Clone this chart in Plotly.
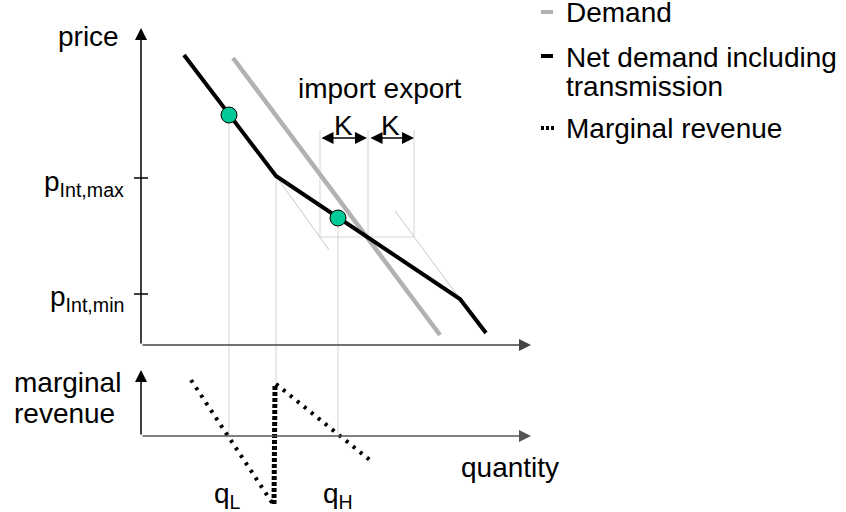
import plotly.graph_objects as go

# ---- data (diagram units: quantity q, price p; MR panel uses its own y axis) ----
demand_q = [92, 299]
demand_p = [287, 10]

net_q = [43, 135, 319, 345]
net_p = [290, 169, 46, 12]

eq_q = [88, 197]
eq_p = [230, 127]

shift_left_q = [135, 188]
shift_left_p = [169, 95]
shift_right_q = [254, 319]
shift_right_p = [134, 46]

p_int_max = 167
p_int_min = 51

k_q = [179, 227, 273]          # import edge, demand crossing, export edge
k_p_low = 108
k_p_high = 215
k_arrow_p = 207

mr1_q = [50, 132]
mr1_v = [56, -68]
mrv_q = [133, 134]
mrv_v = [-68, 52]
mr2_q = [135, 230]
mr2_v = [52, -25]

mr_zero_in_price = -91   # price-axis level of MR zero line
mr_jump_in_price = -39

FONT = "Liberation Sans, Arial, sans-serif"
FS = 28

fig = go.Figure()

# thin guide lines
guide = dict(color="#d4d4d4", width=1)
for q, p in [(eq_q[0], eq_p[0]), (eq_q[1], eq_p[1])]:
    fig.add_trace(go.Scatter(x=[q, q], y=[p, mr_zero_in_price], mode="lines", line=guide, hoverinfo="skip"))
fig.add_trace(go.Scatter(x=[net_q[1], net_q[1]], y=[net_p[1], mr_jump_in_price], mode="lines", line=guide, hoverinfo="skip"))
for q in k_q:
    fig.add_trace(go.Scatter(x=[q, q], y=[k_p_high, k_p_low], mode="lines", line=guide, hoverinfo="skip"))
fig.add_trace(go.Scatter(x=[k_q[0], k_q[2]], y=[k_p_low, k_p_low], mode="lines", line=guide, hoverinfo="skip"))
fig.add_trace(go.Scatter(x=shift_left_q, y=shift_left_p, mode="lines", line=dict(color="#c8c8c8", width=1), hoverinfo="skip"))
fig.add_trace(go.Scatter(x=shift_right_q, y=shift_right_p, mode="lines", line=dict(color="#c8c8c8", width=1), hoverinfo="skip"))

# demand curves
fig.add_trace(go.Scatter(x=demand_q, y=demand_p, mode="lines", name="Demand",
                         line=dict(color="#b2b2b2", width=4.5)))
fig.add_trace(go.Scatter(x=net_q, y=net_p, mode="lines", name="Net demand including transmission",
                         line=dict(color="black", width=4)))
fig.add_trace(go.Scatter(x=eq_q, y=eq_p, mode="markers",
                         marker=dict(size=16, color="#00c896", line=dict(color="black", width=1))))

# marginal revenue (yaxis2)
fig.add_trace(go.Scatter(x=mr1_q, y=mr1_v, yaxis="y2", mode="lines",
                         line=dict(color="black", width=4, dash="3px,6px")))
fig.add_trace(go.Scatter(x=mrv_q, y=mrv_v, yaxis="y2", mode="lines",
                         line=dict(color="black", width=5, dash="4px,2px")))
fig.add_trace(go.Scatter(x=mr2_q, y=mr2_v, yaxis="y2", mode="lines",
                         line=dict(color="black", width=4, dash="3px,6px")))

shapes = []
# price ticks
for p in [p_int_max, p_int_min]:
    shapes.append(dict(type="line", xref="x", yref="y", x0=-7, x1=7, y0=p, y1=p,
                       line=dict(color="black", width=1.5)))
# legend symbols
shapes.append(dict(type="line", xref="x", yref="y", x0=400, x1=412, y0=333, y1=333, line=dict(color="#b2b2b2", width=4)))
shapes.append(dict(type="line", xref="x", yref="y", x0=400, x1=412, y0=289, y1=289, line=dict(color="black", width=4)))
shapes.append(dict(type="line", xref="x", yref="y", x0=400, x1=413, y0=217, y1=217, line=dict(color="black", width=4, dash="3px,2px")))

ann = []
def arrow(x, y, ax, ay, yref="y", color="black", side="end", width=1.5):
    ann.append(dict(x=x, y=y, ax=ax, ay=ay, xref="x", yref=yref, axref="x", ayref=yref,
                    showarrow=True, arrowhead=2, arrowsize=1.6, arrowwidth=width,
                    arrowcolor=color, arrowside=side, text=""))

# axes
arrow(0, 317, 0, 0)                       # price axis
arrow(390, 0, 0, 0, color="#444444")      # quantity axis
arrow(0, 66, 0, 0, yref="y2")             # MR axis
arrow(390, 0, 0, 0, yref="y2", color="#555555")
# K arrows
arrow(k_q[1] - 1, k_arrow_p, k_q[0], k_arrow_p, side="end+start")
arrow(k_q[2], k_arrow_p, k_q[1] + 1, k_arrow_p, side="end+start")

def text(t, x, y, xanchor="left", yanchor="middle"):
    ann.append(dict(x=x, y=y, xref="x", yref="y", text=t, showarrow=False,
                    xanchor=xanchor, yanchor=yanchor, borderpad=0,
                    font=dict(family=FONT, size=FS, color="black")))

text("price", -21, 309, xanchor="right")
text("p<sub>Int,max</sub>", -16, 162, xanchor="right")
text("p<sub>Int,min</sub>", -16, 47, xanchor="right")
text("import export", 239, 257, xanchor="center")
text("K", 202, 220, xanchor="center")
text("K", 249, 220, xanchor="center")
text("quantity", 369, -122, xanchor="center")
text("marginal", -128, -37)
text("revenue", -128, -68)
text("q<sub>L</sub>", 72, -150)
text("q<sub>H</sub>", 181, -150)
text("Demand", 424, 333)
text("Net demand including", 424, 288)
text("transmission", 424, 259)
text("Marginal revenue", 424, 217)

fig.update_layout(
    width=846, height=512, margin=dict(l=0, r=0, t=0, b=0),
    paper_bgcolor="white", plot_bgcolor="white", showlegend=False,
    xaxis=dict(range=[-141, 705], visible=False, fixedrange=True),
    yaxis=dict(range=[-167, 345], visible=False, fixedrange=True),
    yaxis2=dict(range=[-76, 436], visible=False, overlaying="y", fixedrange=True),
    shapes=shapes, annotations=ann,
)

# remove the default 8px page margin so the figure fills the window exactly
fig.write_html("out.html", config={"displayModeBar": False},
               post_script="document.body.style.margin='0';document.body.style.overflow='hidden';")
